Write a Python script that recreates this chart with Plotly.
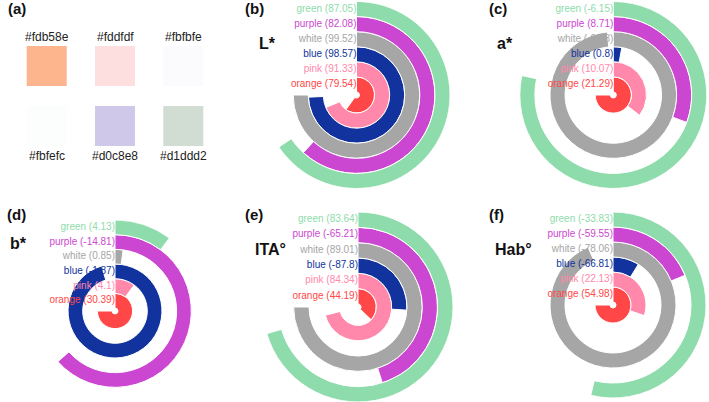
import plotly.graph_objects as go

W, H = 709, 402

# ---- data ----
ring_names = ["orange", "pink", "blue", "white", "purple", "green"]  # inner -> outer
ring_colors = ["#ff4747", "#ff88ab", "#12339e", "#a6a6a6", "#cc47d1", "#8edcab"]

L_star = [79.54, 91.33, 98.57, 99.52, 82.08, 87.05]
a_star = [21.29, 10.07, 0.8, -0.43, 8.71, -6.15]
b_star = [30.39, 4.1, -1.87, 0.85, -14.81, 4.13]
ita = [44.19, 84.34, -87.8, 89.01, -65.21, 83.64]
hab = [54.98, 22.13, -66.81, -78.06, -59.55, -33.83]

swatch_hex = ["#fdb58e", "#fddfdf", "#fbfbfe", "#fbfefc", "#d0c8e8", "#d1ddd2"]

FONT = "Liberation Sans, Arial, Helvetica, sans-serif"

# panel layout: (tag, metric title, values, center x, center y, radius, title pos, metric pos)
panels = [
    ("(b)", "L*", L_star, 356.5, 95.0, 93.5, (243, 9), (257, 43)),
    ("(c)", "a*", a_star, 613.3, 95.0, 93.5, (487, 9), (495, 43)),
    ("(d)", "b*", b_star, 115.0, 311.0, 91.0, (5, 215), (8, 243)),
    ("(e)", "ITA°", ita, 358.0, 307.0, 95.0, (243, 214), (253, 249)),
    ("(f)", "Hab°", hab, 613.0, 305.0, 93.0, (487, 214), (493, 249)),
]

HOLE = 0.2  # inner hole in ring units

fig = go.Figure()
annotations = []
layout_polars = {}

for k, (tag, metric, vals, cx, cy, R, tpos, mpos) in enumerate(panels):
    pid = "polar" if k == 0 else f"polar{k+1}"
    m = max(vals)
    angles = [(v / m * 270.0) % 360.0 for v in vals]
    bases = [HOLE + i for i in range(len(vals))]
    # labels (drawn first so bars sit above them)
    fig.add_trace(go.Scatterpolar(
        r=[b + 0.5 for b in bases],
        theta=[0] * len(vals),
        mode="text",
        text=[f"{n} ({v})" for n, v in zip(ring_names, vals)],
        textposition="middle left",
        textfont=dict(family=FONT, size=10, color=ring_colors),
        subplot=pid, showlegend=False, hoverinfo="skip", cliponaxis=False,
    ))
    fig.add_trace(go.Barpolar(
        r=[1] * len(vals),
        base=bases,
        theta=[a / 2 for a in angles],
        width=angles,
        marker=dict(color=ring_colors, line=dict(color="white", width=1)),
        subplot=pid, showlegend=False,
    ))
    x0 = max(0, (cx - R) / W); x1 = min(1, (cx + R) / W)
    y0 = max(0, 1 - (cy + R) / H); y1 = min(1, 1 - (cy - R) / H)
    layout_polars[pid] = dict(
        domain=dict(x=[x0, x1], y=[y0, y1]),
        bgcolor="rgba(0,0,0,0)",
        barmode="overlay",
        angularaxis=dict(visible=False, rotation=90, direction="clockwise"),
        radialaxis=dict(visible=False, range=[0, HOLE + len(vals)]),
    )
    annotations.append(dict(text=f"<b>{tag}</b>", x=tpos[0] / W, y=1 - tpos[1] / H,
                            xref="paper", yref="paper", xanchor="left", yanchor="middle",
                            showarrow=False, font=dict(family=FONT, size=15, color="#111111")))
    annotations.append(dict(text=f"<b>{metric}</b>", x=mpos[0] / W, y=1 - mpos[1] / H,
                            xref="paper", yref="paper", xanchor="left", yanchor="middle",
                            showarrow=False, font=dict(family=FONT, size=16, color="#111111")))

# ---- panel (a): colour swatches ----
cols = [i % 3 for i in range(len(swatch_hex))]
rows = [i // 3 for i in range(len(swatch_hex))]
sx = [46.7 + 68.3 * c for c in cols]
sy = [66.0 + 60.0 * r for r in rows]
fig.add_trace(go.Scatter(
    x=sx, y=sy, mode="markers",
    marker=dict(symbol="square", size=40, color=swatch_hex, line=dict(width=0)),
    showlegend=False, hoverinfo="skip", xaxis="x", yaxis="y",
))
for x, y, r, hx in zip(sx, sy, rows, swatch_hex):
    annotations.append(dict(text=hx, x=x, y=(y - 29.5) if r == 0 else (y + 29.5),
                            xref="x", yref="y", xanchor="center", yanchor="middle",
                            showarrow=False, font=dict(family=FONT, size=12, color="#222222")))
annotations.append(dict(text="<b>(a)</b>", x=6 / W, y=1 - 9 / H, xref="paper", yref="paper",
                        xanchor="left", yanchor="middle", showarrow=False,
                        font=dict(family=FONT, size=15, color="#111111")))

fig.update_layout(
    width=W, height=H,
    margin=dict(l=0, r=0, t=0, b=0),
    paper_bgcolor="white", plot_bgcolor="rgba(0,0,0,0)",
    xaxis=dict(domain=[0, 230 / W], range=[0, 230], visible=False, fixedrange=True),
    yaxis=dict(domain=[1 - 200 / H, 1], range=[200, 0], visible=False, fixedrange=True),
    annotations=annotations,
    **layout_polars,
)

fig.write_html("out.html")
